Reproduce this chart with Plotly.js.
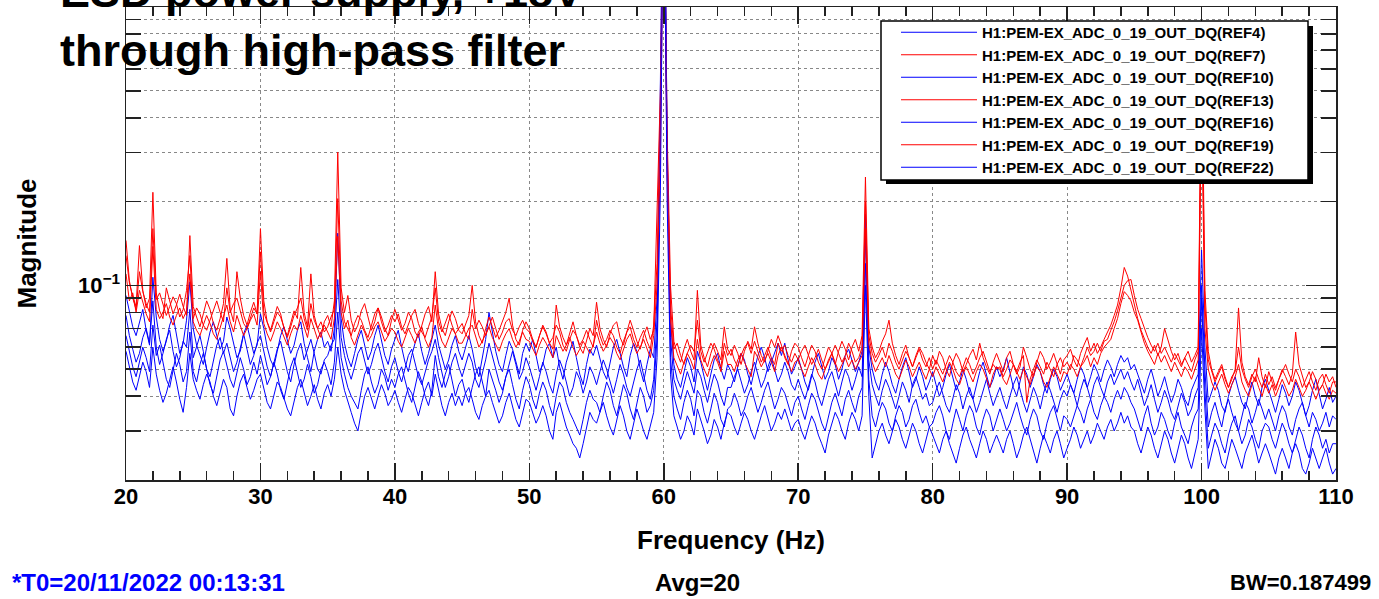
<!DOCTYPE html>
<html><head><meta charset="utf-8">
<script src="https://cdn.plot.ly/plotly-3.0.1.min.js"></script>
<style>html,body{margin:0;padding:0;background:#fff;}#chart{width:1379px;height:599px;}</style>
</head><body><div id="chart"></div>
<script>
// Frequency bins (Hz), one row per 5 Hz
const freq = [
20,20.25,20.5,20.75,21,21.25,21.5,21.75,22,22.25,22.5,22.75,23,23.25,23.5,23.75,24,24.25,24.5,24.75,
25,25.25,25.5,25.75,26,26.25,26.5,26.75,27,27.25,27.5,27.75,28,28.25,28.5,28.75,29,29.25,29.5,29.75,
30,30.25,30.5,30.75,31,31.25,31.5,31.75,32,32.25,32.5,32.75,33,33.25,33.5,33.75,34,34.25,34.5,34.75,
35,35.25,35.5,35.75,36,36.25,36.5,36.75,37,37.25,37.5,37.75,38,38.25,38.5,38.75,39,39.25,39.5,39.75,
40,40.25,40.5,40.75,41,41.25,41.5,41.75,42,42.25,42.5,42.75,43,43.25,43.5,43.75,44,44.25,44.5,44.75,
45,45.25,45.5,45.75,46,46.25,46.5,46.75,47,47.25,47.5,47.75,48,48.25,48.5,48.75,49,49.25,49.5,49.75,
50,50.25,50.5,50.75,51,51.25,51.5,51.75,52,52.25,52.5,52.75,53,53.25,53.5,53.75,54,54.25,54.5,54.75,
55,55.25,55.5,55.75,56,56.25,56.5,56.75,57,57.25,57.5,57.75,58,58.25,58.5,58.75,59,59.25,59.5,59.75,
60,60.25,60.5,60.75,61,61.25,61.5,61.75,62,62.25,62.5,62.75,63,63.25,63.5,63.75,64,64.25,64.5,64.75,
65,65.25,65.5,65.75,66,66.25,66.5,66.75,67,67.25,67.5,67.75,68,68.25,68.5,68.75,69,69.25,69.5,69.75,
70,70.25,70.5,70.75,71,71.25,71.5,71.75,72,72.25,72.5,72.75,73,73.25,73.5,73.75,74,74.25,74.5,74.75,
75,75.25,75.5,75.75,76,76.25,76.5,76.75,77,77.25,77.5,77.75,78,78.25,78.5,78.75,79,79.25,79.5,79.75,
80,80.25,80.5,80.75,81,81.25,81.5,81.75,82,82.25,82.5,82.75,83,83.25,83.5,83.75,84,84.25,84.5,84.75,
85,85.25,85.5,85.75,86,86.25,86.5,86.75,87,87.25,87.5,87.75,88,88.25,88.5,88.75,89,89.25,89.5,89.75,
90,90.25,90.5,90.75,91,91.25,91.5,91.75,92,92.25,92.5,92.75,93,93.25,93.5,93.75,94,94.25,94.5,94.75,
95,95.25,95.5,95.75,96,96.25,96.5,96.75,97,97.25,97.5,97.75,98,98.25,98.5,98.75,99,99.25,99.5,99.75,
100,100.25,100.5,100.75,101,101.25,101.5,101.75,102,102.25,102.5,102.75,103,103.25,103.5,103.75,104,104.25,104.5,104.75,
105,105.25,105.5,105.75,106,106.25,106.5,106.75,107,107.25,107.5,107.75,108,108.25,108.5,108.75,109,109.25,109.5,109.75,
110];

const ref4 = [
.092,.080,.071,.066,.074,.082,.069,.061,.107,.077,.064,.058,.063,.072,.078,.066,.057,.062,.075,.103,
.070,.061,.056,.052,.060,.068,.074,.066,.059,.063,.077,.070,.062,.055,.058,.067,.072,.064,.057,.061,
.079,.070,.060,.054,.051,.058,.066,.071,.063,.057,.061,.069,.074,.062,.055,.049,.058,.064,.068,.060,
.063,.058,.070,.154,.076,.062,.055,.051,.057,.064,.069,.061,.054,.058,.066,.072,.063,.056,.052,.059,
.064,.069,.060,.053,.049,.056,.062,.067,.058,.052,.057,.064,.072,.061,.055,.050,.054,.061,.066,.058,
.054,.060,.066,.059,.051,.047,.055,.064,.080,.067,.058,.052,.049,.056,.063,.059,.053,.048,.057,.062,
.058,.064,.056,.049,.052,.059,.062,.055,.060,.051,.046,.053,.058,.063,.055,.048,.044,.052,.059,.056,
.061,.055,.049,.046,.053,.060,.064,.057,.051,.047,.056,.062,.058,.050,.045,.052,.059,.055,.090,.550,
6.0,.330,.075,.052,.046,.043,.049,.055,.051,.045,.058,.053,.047,.042,.048,.054,.057,.050,.046,.052,
.049,.045,.051,.057,.054,.048,.044,.050,.056,.060,.055,.049,.053,.058,.062,.056,.062,.054,.048,.051,
.055,.050,.045,.042,.047,.053,.057,.051,.046,.049,.055,.052,.046,.050,.056,.059,.054,.049,.053,.058,
.180,.060,.050,.045,.042,.048,.053,.049,.044,.041,.046,.051,.055,.048,.043,.046,.051,.047,.042,.045,
.049,.044,.040,.043,.048,.052,.047,.042,.045,.050,.046,.041,.039,.044,.049,.053,.048,.043,.046,.051,
.047,.050,.055,.049,.043,.040,.045,.051,.048,.043,.047,.052,.049,.044,.041,.046,.050,.047,.042,.045,
.048,.044,.041,.046,.051,.048,.043,.047,.052,.049,.045,.050,.054,.051,.047,.052,.056,.053,.055,.050,
.052,.048,.044,.041,.046,.050,.045,.040,.043,.047,.042,.038,.041,.046,.043,.039,.037,.042,.045,.048,
.134,.060,.038,.041,.045,.042,.037,.035,.040,.044,.047,.042,.038,.036,.041,.045,.040,.037,.043,.046,
.042,.038,.035,.039,.044,.041,.037,.040,.045,.042,.038,.034,.037,.042,.046,.041,.036,.039,.043,.038,
.040];

const ref7 = [
.128,.102,.091,.084,.139,.096,.083,.090,.216,.094,.081,.076,.098,.088,.079,.085,.093,.084,.078,.151,
.084,.077,.071,.079,.088,.082,.073,.069,.076,.086,.125,.082,.074,.112,.090,.078,.072,.080,.087,.079,
.160,.088,.074,.069,.077,.084,.079,.070,.066,.073,.081,.076,.116,.080,.071,.110,.078,.070,.065,.074,
.078,.071,.088,.301,.098,.080,.092,.075,.068,.072,.081,.086,.076,.069,.074,.083,.077,.070,.066,.075,
.082,.075,.069,.073,.080,.076,.068,.065,.072,.079,.084,.074,.112,.079,.070,.066,.074,.081,.076,.069,
.067,.073,.078,.100,.074,.066,.062,.070,.077,.071,.065,.069,.075,.080,.090,.072,.064,.061,.069,.074,
.070,.064,.060,.066,.072,.068,.062,.059,.085,.071,.065,.061,.068,.074,.066,.060,.057,.064,.070,.066,
.087,.070,.064,.060,.067,.072,.074,.065,.061,.068,.075,.069,.063,.059,.066,.071,.064,.069,.190,.500,
4.0,.360,.100,.063,.057,.053,.059,.064,.058,.054,.096,.061,.055,.051,.057,.062,.058,.054,.071,.059,
.056,.061,.057,.052,.058,.063,.059,.071,.062,.056,.053,.058,.064,.060,.066,.061,.055,.052,.058,.062,
.060,.055,.051,.056,.061,.058,.053,.050,.055,.060,.057,.052,.058,.063,.059,.054,.060,.064,.058,.066,
.245,.070,.060,.055,.058,.063,.067,.075,.062,.056,.052,.057,.061,.055,.051,.056,.060,.057,.053,.050,
.056,.052,.058,.055,.050,.047,.053,.057,.054,.049,.052,.056,.059,.054,.062,.055,.051,.048,.053,.057,
.053,.049,.055,.058,.052,.048,.051,.060,.055,.050,.047,.053,.058,.055,.050,.053,.057,.052,.048,.054,
.056,.059,.054,.051,.057,.061,.065,.058,.062,.057,.060,.064,.068,.072,.078,.085,.098,.116,.108,.096,
.084,.076,.069,.064,.060,.057,.061,.056,.060,.070,.063,.058,.054,.057,.052,.055,.058,.053,.056,.060,
.800,.096,.058,.050,.046,.049,.052,.047,.043,.046,.050,.083,.053,.047,.044,.048,.045,.055,.047,.043,
.049,.045,.042,.046,.050,.047,.044,.048,.068,.052,.047,.043,.045,.049,.046,.042,.044,.048,.045,.047,
.043];

const ref10 = [
.078,.066,.059,.053,.057,.065,.070,.062,.088,.060,.052,.057,.064,.069,.058,.051,.055,.063,.060,.082,
.055,.060,.066,.058,.050,.047,.054,.061,.065,.057,.062,.055,.049,.053,.060,.067,.059,.052,.056,.062,
.066,.058,.051,.047,.053,.059,.063,.056,.049,.045,.052,.058,.062,.054,.059,.064,.057,.050,.048,.054,
.056,.061,.064,.105,.065,.056,.050,.046,.051,.057,.060,.053,.048,.052,.058,.062,.055,.049,.045,.051,
.055,.049,.045,.050,.056,.059,.053,.047,.044,.049,.054,.058,.064,.055,.048,.043,.047,.053,.057,.051,
.047,.052,.057,.053,.046,.043,.048,.054,.062,.056,.051,.045,.042,.047,.053,.058,.052,.046,.049,.055,
.051,.046,.042,.047,.053,.049,.044,.041,.048,.054,.050,.045,.040,.043,.049,.046,.041,.045,.051,.048,
.044,.049,.054,.050,.045,.041,.046,.052,.048,.043,.040,.045,.050,.054,.047,.042,.039,.046,.075,.400,
5.0,.300,.065,.046,.042,.039,.044,.049,.045,.041,.050,.047,.042,.038,.043,.048,.045,.040,.037,.043,
.043,.047,.050,.045,.041,.044,.049,.053,.048,.043,.046,.051,.055,.050,.045,.048,.053,.049,.044,.042,
.046,.042,.039,.043,.048,.045,.040,.037,.041,.046,.049,.044,.040,.045,.050,.047,.042,.046,.051,.047,
.150,.054,.044,.040,.037,.042,.046,.043,.039,.036,.040,.045,.042,.038,.044,.047,.043,.039,.041,.037,
.038,.042,.045,.041,.037,.035,.039,.044,.041,.036,.040,.043,.039,.035,.038,.042,.046,.041,.037,.040,
.043,.039,.036,.040,.044,.047,.042,.038,.035,.039,.043,.040,.036,.041,.045,.042,.038,.035,.039,.042,
.040,.044,.041,.037,.042,.046,.043,.039,.044,.047,.043,.040,.045,.048,.044,.047,.050,.046,.049,.045,
.042,.046,.041,.037,.040,.044,.039,.035,.038,.042,.039,.035,.033,.037,.041,.038,.034,.036,.040,.043,
.100,.050,.031,.035,.038,.034,.031,.036,.039,.035,.032,.030,.034,.038,.036,.032,.035,.039,.036,.033,
.036,.033,.030,.034,.037,.035,.031,.029,.033,.036,.038,.034,.031,.035,.033,.030,.032,.035,.031,.034,
.033];

const ref13 = [
.145,.104,.090,.082,.112,.095,.086,.080,.160,.089,.094,.085,.078,.084,.091,.086,.077,.082,.096,.128,
.076,.083,.079,.072,.069,.075,.082,.088,.080,.074,.098,.080,.086,.090,.081,.073,.070,.076,.083,.079,
.132,.080,.073,.068,.074,.080,.077,.070,.065,.071,.078,.083,.090,.076,.069,.086,.075,.070,.074,.068,
.071,.077,.082,.205,.088,.074,.070,.066,.073,.078,.075,.069,.065,.072,.079,.083,.074,.068,.072,.078,
.074,.079,.071,.067,.072,.078,.082,.073,.068,.065,.071,.077,.098,.074,.068,.073,.079,.072,.067,.070,
.073,.067,.064,.082,.070,.075,.071,.066,.072,.077,.070,.064,.068,.074,.076,.069,.066,.071,.075,.070,
.068,.063,.060,.066,.071,.067,.062,.065,.072,.068,.061,.058,.064,.069,.066,.061,.064,.069,.064,.060,
.075,.066,.061,.064,.069,.066,.060,.057,.063,.068,.071,.064,.060,.065,.069,.063,.059,.072,.120,.430,
3.5,.300,.085,.059,.062,.056,.052,.057,.061,.058,.075,.058,.053,.057,.062,.059,.054,.051,.062,.056,
.059,.054,.051,.056,.060,.062,.057,.063,.058,.053,.056,.060,.055,.052,.062,.058,.061,.056,.053,.057,
.054,.058,.061,.056,.052,.055,.059,.054,.050,.053,.057,.061,.057,.053,.056,.062,.058,.053,.055,.060,
.200,.066,.057,.053,.056,.060,.055,.062,.058,.053,.050,.054,.058,.055,.051,.055,.059,.054,.051,.055,
.050,.054,.051,.048,.052,.056,.053,.049,.047,.051,.055,.052,.048,.051,.055,.058,.053,.049,.052,.050,
.051,.047,.050,.054,.052,.049,.053,.056,.038,.046,.050,.054,.051,.048,.053,.050,.047,.052,.055,.051,
.053,.050,.056,.054,.051,.055,.060,.056,.058,.062,.058,.063,.064,.069,.074,.081,.090,.100,.104,.105,
.092,.082,.076,.070,.065,.061,.058,.062,.057,.060,.056,.053,.057,.054,.051,.055,.052,.049,.054,.058,
.600,.085,.054,.049,.045,.048,.051,.046,.043,.047,.049,.060,.050,.046,.043,.047,.050,.046,.043,.048,
.044,.047,.043,.046,.049,.052,.048,.045,.050,.047,.043,.046,.049,.045,.042,.046,.048,.044,.041,.045,
.045];

const ref16 = [
.066,.058,.051,.047,.053,.060,.055,.049,.072,.056,.061,.053,.046,.043,.050,.057,.052,.045,.049,.068,
.049,.045,.052,.057,.050,.044,.041,.047,.054,.058,.051,.046,.043,.049,.055,.050,.044,.047,.053,.048,
.056,.050,.044,.047,.053,.048,.042,.039,.045,.051,.055,.048,.043,.046,.052,.047,.041,.044,.050,.053,
.049,.044,.053,.080,.055,.048,.043,.040,.038,.036,.042,.048,.051,.045,.041,.044,.050,.047,.042,.046,
.043,.048,.051,.046,.041,.038,.043,.049,.045,.040,.037,.042,.056,.047,.043,.048,.052,.045,.040,.044,
.046,.041,.038,.043,.048,.051,.045,.040,.050,.046,.042,.038,.041,.047,.050,.044,.039,.036,.042,.047,
.044,.039,.036,.041,.045,.042,.037,.034,.040,.045,.043,.038,.035,.033,.031,.029,.033,.038,.042,.039,
.038,.035,.040,.045,.042,.037,.034,.039,.044,.041,.036,.033,.038,.043,.040,.035,.037,.042,.065,.350,
4.5,.280,.055,.040,.036,.033,.038,.042,.039,.034,.042,.040,.035,.032,.036,.041,.038,.033,.031,.036,
.037,.041,.038,.034,.036,.040,.043,.039,.035,.038,.042,.045,.040,.036,.039,.043,.041,.037,.034,.038,
.040,.036,.033,.037,.041,.039,.035,.032,.030,.034,.038,.041,.037,.034,.039,.042,.038,.035,.040,.043,
.120,.046,.034,.031,.035,.038,.036,.032,.030,.034,.037,.035,.031,.033,.037,.039,.035,.032,.034,.031,
.032,.035,.037,.034,.030,.028,.032,.036,.033,.030,.034,.037,.035,.031,.029,.033,.036,.034,.030,.033,
.036,.033,.030,.032,.035,.038,.034,.031,.029,.033,.036,.034,.030,.028,.032,.035,.037,.033,.030,.034,
.033,.031,.034,.037,.035,.032,.036,.039,.035,.033,.037,.040,.038,.035,.039,.042,.039,.043,.041,.038,
.036,.033,.030,.034,.037,.032,.029,.031,.035,.033,.030,.028,.032,.035,.031,.029,.027,.031,.034,.036,
.090,.042,.026,.029,.032,.030,.027,.025,.029,.032,.034,.030,.027,.029,.033,.031,.028,.026,.030,.032,
.031,.028,.026,.029,.032,.030,.027,.025,.028,.031,.029,.026,.024,.028,.031,.029,.026,.028,.025,.027,
.027];

const ref19 = [
.110,.088,.094,.080,.096,.086,.079,.074,.138,.082,.076,.080,.086,.077,.072,.078,.083,.076,.081,.110,
.074,.069,.066,.072,.078,.073,.067,.064,.070,.077,.085,.074,.068,.078,.071,.066,.070,.075,.079,.072,
.112,.073,.067,.063,.068,.074,.070,.065,.061,.067,.072,.069,.078,.071,.065,.076,.069,.064,.068,.072,
.068,.064,.076,.150,.080,.070,.075,.065,.061,.067,.072,.068,.063,.066,.071,.074,.068,.063,.066,.070,
.068,.063,.060,.065,.070,.066,.062,.068,.071,.064,.060,.065,.085,.069,.063,.060,.065,.070,.067,.062,
.062,.066,.070,.072,.065,.060,.063,.067,.071,.065,.061,.058,.063,.067,.070,.064,.060,.063,.068,.064,
.063,.059,.056,.061,.065,.062,.058,.055,.066,.062,.058,.061,.065,.060,.056,.059,.063,.060,.057,.061,
.068,.062,.058,.061,.065,.062,.057,.054,.059,.064,.067,.061,.057,.060,.064,.059,.055,.066,.100,.300,
3.0,.250,.075,.055,.051,.048,.053,.057,.054,.050,.064,.054,.050,.047,.052,.056,.053,.049,.058,.052,
.052,.049,.054,.057,.053,.050,.047,.058,.055,.051,.054,.057,.053,.049,.056,.060,.056,.052,.049,.053,
.054,.050,.047,.051,.055,.052,.048,.046,.050,.054,.057,.053,.049,.052,.055,.051,.054,.050,.053,.056,
.160,.062,.053,.049,.052,.055,.051,.056,.052,.048,.046,.050,.054,.051,.047,.050,.053,.049,.046,.050,
.047,.051,.048,.045,.049,.053,.050,.046,.044,.048,.051,.048,.045,.049,.052,.050,.046,.043,.048,.051,
.050,.046,.044,.048,.052,.049,.046,.050,.047,.044,.048,.051,.049,.045,.043,.047,.051,.048,.045,.049,
.048,.052,.050,.047,.051,.053,.056,.051,.055,.052,.057,.060,.062,.064,.070,.076,.086,.095,.092,.088,
.080,.075,.068,.062,.058,.055,.052,.057,.053,.056,.052,.049,.053,.050,.047,.051,.049,.046,.050,.054,
.450,.070,.050,.045,.042,.045,.048,.044,.041,.044,.047,.052,.045,.042,.040,.044,.047,.043,.040,.044,
.041,.044,.040,.043,.046,.043,.040,.042,.046,.043,.040,.042,.045,.042,.039,.042,.044,.041,.039,.042,
.041];

const ref22 = [
.058,.051,.045,.042,.047,.053,.049,.043,.060,.048,.042,.038,.041,.046,.051,.045,.039,.035,.043,.057,
.046,.042,.039,.044,.048,.045,.040,.037,.041,.046,.043,.036,.034,.040,.045,.048,.043,.039,.042,.046,
.048,.043,.038,.036,.040,.045,.043,.039,.036,.034,.038,.043,.046,.041,.037,.040,.044,.039,.036,.041,
.044,.040,.046,.060,.048,.042,.038,.035,.032,.030,.035,.040,.043,.039,.036,.040,.044,.041,.037,.039,
.042,.038,.035,.039,.043,.041,.037,.034,.038,.042,.045,.040,.048,.042,.037,.034,.038,.041,.037,.040,
.037,.041,.043,.039,.035,.033,.037,.040,.042,.038,.035,.032,.034,.038,.041,.037,.033,.031,.035,.039,
.038,.035,.032,.034,.037,.034,.030,.028,.035,.038,.034,.031,.029,.027,.026,.024,.027,.031,.035,.033,
.032,.035,.038,.034,.031,.029,.033,.037,.034,.030,.028,.032,.036,.033,.030,.028,.031,.035,.055,.220,
4.0,.200,.048,.034,.031,.028,.030,.034,.032,.029,.036,.033,.030,.027,.029,.033,.031,.028,.032,.035,
.034,.031,.029,.032,.035,.033,.030,.028,.031,.034,.037,.033,.030,.032,.035,.033,.036,.033,.030,.032,
.033,.030,.028,.031,.034,.032,.029,.027,.025,.029,.032,.035,.033,.030,.028,.032,.035,.033,.030,.034,
.100,.040,.024,.027,.030,.032,.029,.027,.030,.033,.031,.028,.026,.029,.032,.030,.027,.025,.028,.031,
.029,.027,.025,.028,.030,.027,.025,.023,.026,.029,.031,.028,.026,.024,.027,.030,.028,.025,.027,.029,
.027,.025,.028,.030,.027,.024,.026,.029,.031,.028,.025,.023,.026,.029,.027,.025,.028,.030,.027,.024,
.026,.028,.031,.029,.026,.028,.030,.027,.029,.032,.030,.028,.031,.033,.030,.032,.035,.032,.034,.031,
.030,.027,.025,.028,.031,.029,.026,.024,.027,.030,.028,.025,.023,.026,.029,.027,.024,.022,.025,.028,
.070,.036,.022,.025,.028,.026,.023,.022,.025,.028,.026,.024,.022,.025,.027,.029,.026,.023,.025,.027,
.025,.023,.021,.024,.026,.024,.022,.025,.027,.025,.022,.021,.023,.026,.024,.022,.024,.026,.023,.021,
.022];

const seriesNames = [
'H1:PEM-EX_ADC_0_19_OUT_DQ(REF4)','H1:PEM-EX_ADC_0_19_OUT_DQ(REF7)',
'H1:PEM-EX_ADC_0_19_OUT_DQ(REF10)','H1:PEM-EX_ADC_0_19_OUT_DQ(REF13)',
'H1:PEM-EX_ADC_0_19_OUT_DQ(REF16)','H1:PEM-EX_ADC_0_19_OUT_DQ(REF19)',
'H1:PEM-EX_ADC_0_19_OUT_DQ(REF22)'];
const seriesValues = [ref4, ref7, ref10, ref13, ref16, ref19, ref22];
const seriesColors = ['#0000ff','#ff0000','#0000ff','#ff0000','#0000ff','#ff0000','#0000ff'];

const yMinorVals = [0.02,0.03,0.04,0.05,0.06,0.07,0.08,0.09,0.2,0.3,0.4,0.5,0.6,0.7,0.8,0.9];

const FONT = 'Liberation Sans, Arial, Helvetica, sans-serif';
const W = 1379, H = 599;
const L = 126, R = 43, T = 7, B = 119;
const pw = W - L - R, ph = H - T - B;
const px = v => (v - L) / pw;
const py = v => (H - B - v) / ph;

const traces = seriesValues.map((vals, i) => ({
  x: freq, y: vals, type: 'scatter', mode: 'lines', name: seriesNames[i],
  line: {color: seriesColors[i], width: 1}
}));

const axisCommon = {
  showline: true, linecolor: '#222', linewidth: 1.5, mirror: 'allticks',
  ticks: 'inside', tickcolor: '#222', tickwidth: 1.5,
  showgrid: true, gridcolor: '#888', griddash: 'dot', gridwidth: 1,
  zeroline: false,
  tickfont: {family: FONT, size: 22, color: '#000', weight: 'bold'}
};

const layout = {
  width: W, height: H,
  margin: {l: L, r: R, t: T, b: B, pad: 0},
  paper_bgcolor: '#fff', plot_bgcolor: '#fff',
  showlegend: true,
  xaxis: Object.assign({}, axisCommon, {
    range: [20, 110], tickmode: 'linear', tick0: 0, dtick: 10, ticklen: 17,
    ticklabelstandoff: -4,
    minor: {dtick: 2, ticks: 'inside', ticklen: 9, tickcolor: '#222', tickwidth: 1.5, showgrid: false},
    title: {text: 'Frequency (Hz)', standoff: 23, font: {family: FONT, size: 26, color: '#000', weight: 'bold'}}
  }),
  yaxis: Object.assign({}, axisCommon, {
    type: 'log', range: [Math.log10(0.02), 0],
    tickmode: 'array', tickvals: [0.1], ticktext: ['10<sup>\u22121</sup>'], ticklen: 30,
    minor: {tickmode: 'array', tickvals: yMinorVals, ticks: 'inside', ticklen: 15, tickcolor: '#222', tickwidth: 1.5,
            showgrid: true, gridcolor: '#888', griddash: 'dot', gridwidth: 1},
    title: {text: 'Magnitude', standoff: 34, font: {family: FONT, size: 26, color: '#000', weight: 'bold'}}
  }),
  legend: {
    x: px(896), xanchor: 'left', y: py(16), yanchor: 'top',
    bgcolor: 'rgba(0,0,0,0)', borderwidth: 0,
    font: {family: FONT, size: 15, color: '#000', weight: 'bold'},
    itemwidth: 76, tracegroupgap: 0
  },
  shapes: [
    {type: 'rect', xref: 'paper', yref: 'paper', layer: 'above',
     x0: px(886), x1: px(1313), y0: py(184), y1: py(26),
     fillcolor: '#000', line: {width: 0}},
    {type: 'rect', xref: 'paper', yref: 'paper', layer: 'above',
     x0: px(881), x1: px(1308), y0: py(180), y1: py(21),
     fillcolor: '#fff', line: {color: '#000', width: 1.5}}
  ],
  annotations: [
    {xref: 'paper', yref: 'paper', x: px(58), y: py(78), xanchor: 'left', yanchor: 'bottom', align: 'left',
     showarrow: false, text: 'ESD power supply, +18V<br>through high-pass filter',
     font: {family: FONT, size: 45, color: '#000', weight: 'bold'}},
    {xref: 'paper', yref: 'paper', x: px(10), y: py(582), xanchor: 'left', yanchor: 'middle',
     showarrow: false, text: '*T0=20/11/2022 00:13:31',
     font: {family: FONT, size: 24, color: '#0000ff', weight: 'bold'}},
    {xref: 'paper', yref: 'paper', x: px(697), y: py(582), xanchor: 'center', yanchor: 'middle',
     showarrow: false, text: 'Avg=20',
     font: {family: FONT, size: 24, color: '#000', weight: 'bold'}},
    {xref: 'paper', yref: 'paper', x: px(1373), y: py(582), xanchor: 'right', yanchor: 'middle',
     showarrow: false, text: 'BW=0.187499',
     font: {family: FONT, size: 22, color: '#000', weight: 'bold'}}
  ]
};

Plotly.newPlot('chart', traces, layout, {displayModeBar: false, staticPlot: true});
</script>
</body></html>
